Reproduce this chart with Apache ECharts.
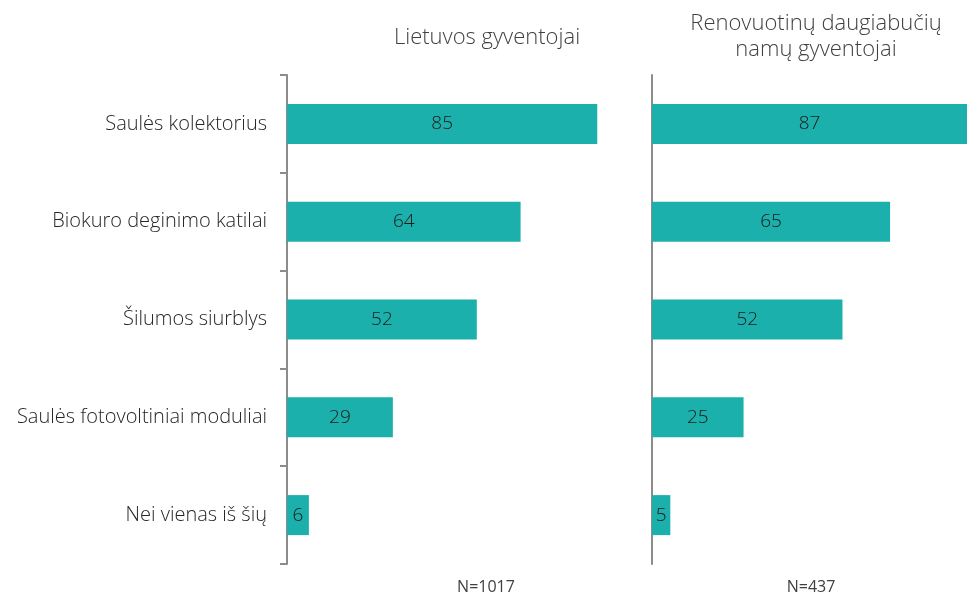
<!DOCTYPE html>
<html><head><meta charset="utf-8">
<script src="https://cdn.jsdelivr.net/npm/echarts@6/dist/echarts.min.js"></script>
<style>html,body{margin:0;padding:0;background:#fff}#c{width:967px;height:596px}</style>
</head><body><div id="c"></div>
<script>
const categories = ['Saulės kolektorius','Biokuro deginimo katilai','Šilumos siurblys','Saulės fotovoltiniai moduliai','Nei vienas iš šių'];
const lietuvosValues = [85, 64, 52, 29, 6];
const renovuotinuValues = [87, 65, 52, 25, 5];
const panelTitles = ['Lietuvos gyventojai', 'Renovuotinų daugiabučių\nnamų gyventojai'];
const sampleLabels = ['N=1017', 'N=437'];

const FONT = '"Open Sans", "Segoe UI", sans-serif';
const barColor = '#1cb0ac';
const chart = echarts.init(document.getElementById('c'));
const labelCfg = {show:true, position:'inside', color:'#1a1a1a', fontSize:19, fontFamily:FONT, fontWeight:300};
chart.setOption({
  animation:false,
  title:[
    {text:panelTitles[0], left:482, top:22, textAlign:'center', textStyle:{fontFamily:FONT, fontSize:22, fontWeight:300, color:'#404040'}},
    {text:panelTitles[1], left:811, top:6, textAlign:'center', textStyle:{fontFamily:FONT, fontSize:22, fontWeight:300, color:'#404040', lineHeight:26}},
    {text:sampleLabels[0], left:481, top:574, textAlign:'center', textStyle:{fontFamily:FONT, fontSize:16, fontWeight:'normal', color:'#404040'}},
    {text:sampleLabels[1], left:806, top:574, textAlign:'center', textStyle:{fontFamily:FONT, fontSize:16, fontWeight:'normal', color:'#404040'}}
  ],
  grid:[
    {left:287, top:75, width:365, height:489},
    {left:652, top:75, right:0, height:489}
  ],
  xAxis:[
    {gridIndex:0, type:'value', min:0, max:100, show:false},
    {gridIndex:1, type:'value', min:0, max:86, show:false}
  ],
  yAxis:[
    {gridIndex:0, type:'category', data:categories, inverse:true,
     axisLine:{lineStyle:{color:'#8c8c8c', width:2}},
     axisTick:{show:true, length:7, lineStyle:{color:'#8c8c8c', width:2}},
     axisLabel:{color:'#262626', fontSize:20, fontFamily:FONT, fontWeight:300, margin:20}},
    {gridIndex:1, type:'category', data:categories, inverse:true,
     axisLine:{lineStyle:{color:'#8c8c8c', width:2}},
     axisTick:{show:false}, axisLabel:{show:false}}
  ],
  series:[
    {type:'bar', xAxisIndex:0, yAxisIndex:0, data:lietuvosValues, barWidth:40, itemStyle:{color:barColor}, label:labelCfg},
    {type:'bar', xAxisIndex:1, yAxisIndex:1, data:renovuotinuValues, barWidth:40, clip:true, itemStyle:{color:barColor}, label:labelCfg}
  ]
});
</script></body></html>
